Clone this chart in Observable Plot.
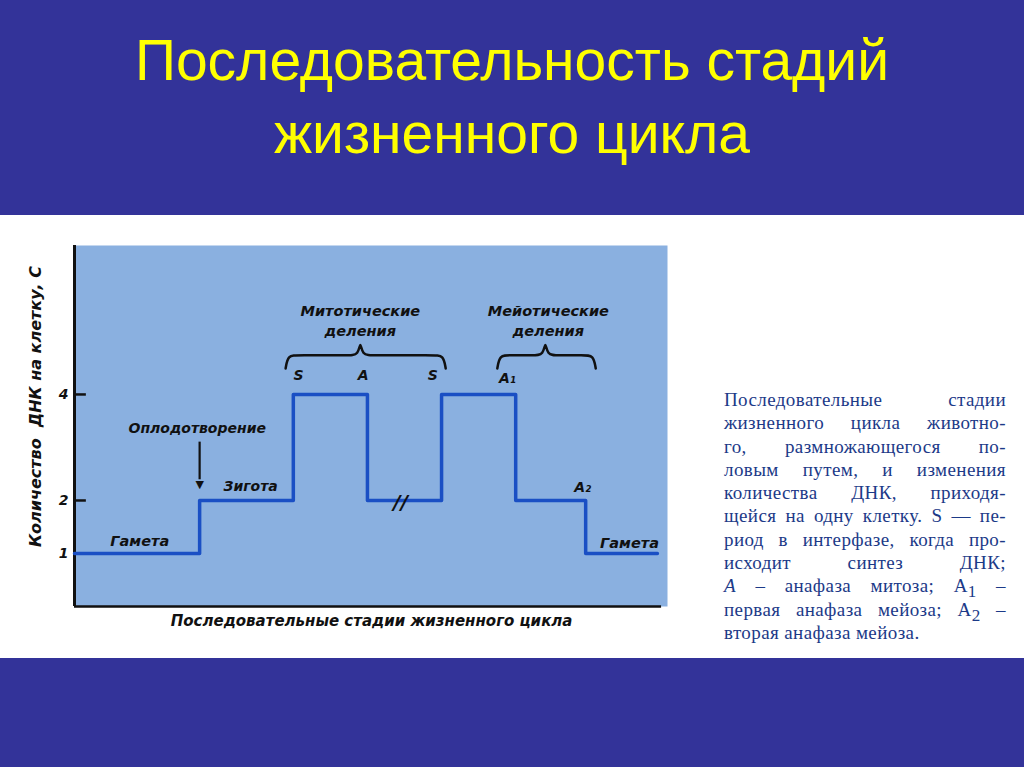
<!DOCTYPE html>
<html>
<head>
<meta charset="utf-8">
<script src="https://cdn.jsdelivr.net/npm/d3@7"></script>
<script src="https://cdn.jsdelivr.net/npm/@observablehq/plot@0.6"></script>
<style>
html, body { margin: 0; padding: 0; }
body { width: 1024px; height: 767px; background: #333399; position: relative; overflow: hidden; font-family: "Liberation Sans", Arial, sans-serif; }
#title { position: absolute; left: 0; top: 24px; width: 1024px; text-align: center; color: #ffff00; font-size: 57px; line-height: 73px; }
#band { position: absolute; left: 0; top: 215px; width: 1024px; height: 443px; background: #ffffff; }
#chart { position: absolute; left: 0; top: 0; }
#note { position: absolute; left: 724px; top: 173px; width: 282px; font-family: "Liberation Serif", "Times New Roman", serif; font-size: 19px; letter-spacing: 0.4px; line-height: 23.3px; color: #1c3a88; }
#note .j { text-align: justify; text-align-last: justify; }
#note sub { font-size: 0.9em; vertical-align: -0.3em; line-height: 0; }
</style>
</head>
<body>
<div id="title">Последовательность стадий<br>жизненного цикла</div>
<div id="band">
  <div id="chart"></div>
  <div id="note">
    <div class="j">Последовательные стадии</div>
    <div class="j">жизненного цикла животно-</div>
    <div class="j">го, размножающегося по-</div>
    <div class="j">ловым путем, и изменения</div>
    <div class="j">количества ДНК, приходя-</div>
    <div class="j">щейся на одну клетку. S — пе-</div>
    <div class="j">риод в интерфазе, когда про-</div>
    <div class="j">исходит синтез ДНК;</div>
    <div class="j"><i>A</i> – анафаза митоза; A<sub>1</sub> –</div>
    <div class="j">первая анафаза мейоза; A<sub>2</sub> –</div>
    <div>вторая анафаза мейоза.</div>
  </div>
</div>
<script>
// ---- data ----
const stageX = [0, 21.1, 36.9, 49.4, 61.9, 74.4, 86.2, 98.3];
const dnaC   = [1, 2, 4, 2, 4, 2, 1, 1];
const yTicks = [1, 2, 4];

const annText = ["Митотические", "деления", "Мейотические", "деления", "S", "A", "S", "A₁",
                 "Оплодотворение", "Зигота", "Гамета", "A₂", "Гамета", "//"];
const annX    = [48.2, 48.2, 79.9, 79.9, 37.8, 48.7, 60.4, 73.0, 20.7, 29.7, 11.0, 85.7, 93.6, 55.0];
const annY    = [5.57, 5.19, 5.57, 5.19, 4.36, 4.36, 4.36, 4.30, 3.36, 2.26, 1.23, 2.25, 1.19, 1.96];
const annSize = [14.5, 14.5, 14.5, 14.5, 14, 14, 14, 14, 14, 14, 14.5, 14, 14.5, 20];

const braceLeft  = [35.6, 71.3];
const bracePeak  = [48.2, 79.4];
const braceRight = [62.6, 87.9];
const braceEndY = 4.49, braceFlatY = 4.74, bracePeakY = 5.03;

const arrowX = [21.1];
const arrowTop = [3.11];
const arrowTip = [2.25];

const yLabel = "Количество  ДНК на клетку, С";
const xLabel = "Последовательные стадии жизненного цикла";
const xLabelPos = 50.1;

// ---- derived tables ----
const steps = stageX.map((x, i) => ({x, c: dnaC[i]}));
const ann = annText.map((t, i) => ({t, x: annX[i], y: annY[i], s: annSize[i]}));
const braces = [];
braceLeft.forEach((L, i) => {
  const P = bracePeak[i], R = braceRight[i];
  const pts = [[L, braceEndY], [L + 0.4, braceFlatY], [L + 2, braceFlatY], [P - 2, braceFlatY], [P - 0.3, braceFlatY],
               [P, bracePeakY], [P + 0.3, braceFlatY], [P + 2, braceFlatY], [R - 2, braceFlatY], [R - 0.4, braceFlatY], [R, braceEndY]];
  pts.forEach(([x, y]) => braces.push({id: i, x, y}));
});
const arrows = arrowX.map((x, i) => ({x, y1: arrowTop[i], y2: arrowTip[i]}));

const font = "DejaVu Sans, Verdana, sans-serif";

const chart = Plot.plot({
  width: 1024, height: 443,
  marginLeft: 74, marginRight: 357, marginTop: 30, marginBottom: 52,
  x: {domain: [0, 100], axis: null},
  y: {domain: [0, 6.81], axis: null},
  style: {background: "transparent", color: "#111", overflow: "visible", fontFamily: font},
  marks: [
    Plot.frame({fill: "#8ab0e0", stroke: null}),
    Plot.axisY({ticks: yTicks, tickFormat: "d", tickSize: 0, tickPadding: 6, label: null, fontSize: 14, fontWeight: "bold", fontStyle: "italic", fill: "#111"}),
    Plot.ruleY(yTicks, {x1: 0, x2: 2, stroke: "#111", strokeWidth: 2.5}),
    Plot.ruleX([0], {stroke: "#111", strokeWidth: 3}),
    Plot.ruleY([0], {x1: 0, x2: 99, stroke: "#111", strokeWidth: 2.5}),
    Plot.line(steps, {x: "x", y: "c", curve: "step-after", stroke: "#1a4fc4", strokeWidth: 3.5}),
    Plot.line(braces, {x: "x", y: "y", z: "id", curve: "basis", stroke: "#111", strokeWidth: 2.5}),
    Plot.link(arrows, {x1: "x", x2: "x", y1: "y1", y2: d => d.y2 + 0.15, stroke: "#111", strokeWidth: 2.2}),
    Plot.text(arrows, {x: "x", y: "y2", text: () => "▼", fontSize: 11, lineAnchor: "bottom", dy: 1, fill: "#111"}),
    Plot.text(ann, {x: "x", y: "y", text: "t", fontSize: "s", fontWeight: "bold", fontStyle: "italic", fill: "#111"}),
    Plot.text([yLabel], {frameAnchor: "left", textAnchor: "middle", dx: -39, dy: -19.5, rotate: -90, fontSize: 16, fontWeight: "bold", fontStyle: "italic", fill: "#111"}),
    Plot.text([xLabel], {x: xLabelPos, frameAnchor: "bottom", dy: 19, fontSize: 15, fontWeight: "bold", fontStyle: "italic", fill: "#111"})
  ]
});
document.getElementById("chart").appendChild(chart);
</script>
</body>
</html>
